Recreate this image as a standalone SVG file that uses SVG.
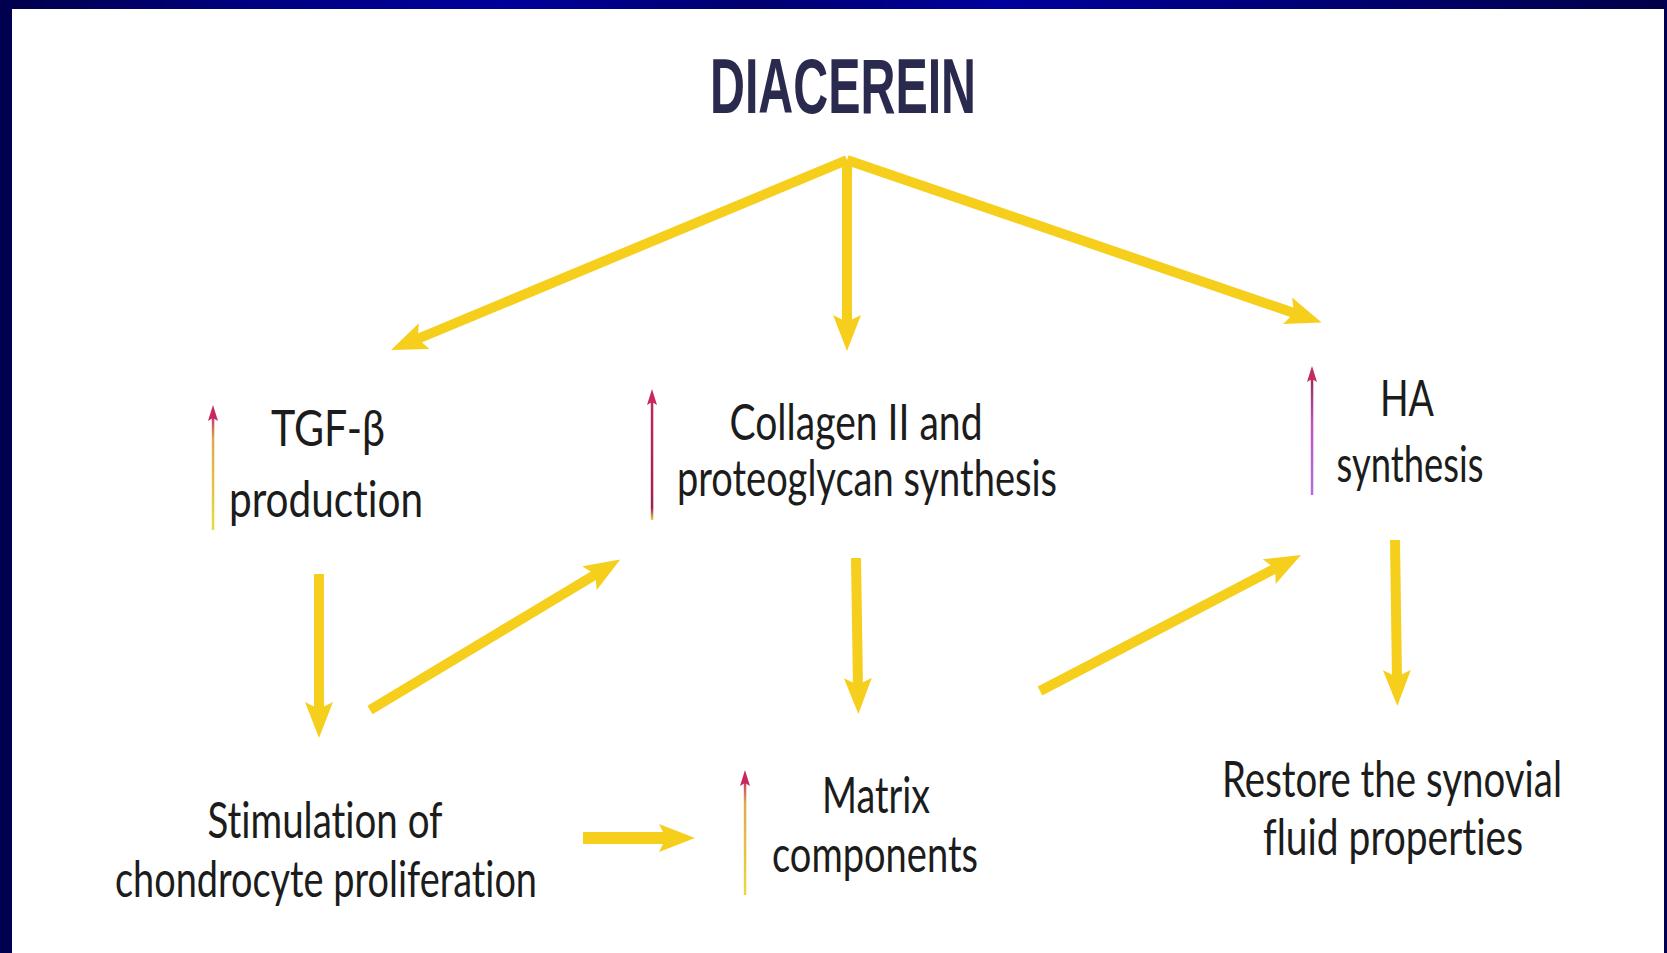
<svg xmlns="http://www.w3.org/2000/svg" width="1667" height="953" viewBox="0 0 1667 953">
<style>
.lbl{font-family:Lato,"Open Sans","DejaVu Sans",sans-serif;font-size:50px;fill:#1c1c1c;text-anchor:middle;font-variant-ligatures:none;font-feature-settings:"liga" 0}
.title{font-family:"Liberation Sans",Arial,sans-serif;font-weight:bold;font-size:78px;fill:#2a2a4e;text-anchor:middle}
.big{stroke:#f6cf1c;stroke-width:10;fill:none;stroke-linecap:butt}
.sh{fill:#c8285e}
</style>
<defs>
<linearGradient id="band" x1="0" y1="0" x2="1" y2="0">
<stop offset="0" stop-color="#00004a"/>
<stop offset="0.15" stop-color="#000080"/>
<stop offset="0.3" stop-color="#00009a"/>
<stop offset="0.45" stop-color="#000070"/>
<stop offset="0.6" stop-color="#00009c"/>
<stop offset="0.8" stop-color="#000072"/>
<stop offset="1" stop-color="#000048"/>
</linearGradient>
<linearGradient id="shaftY" x1="0" y1="0" x2="0" y2="1">
<stop offset="0" stop-color="#c2306a"/>
<stop offset="0.2" stop-color="#e0a850"/>
<stop offset="1" stop-color="#e6dc3c"/>
</linearGradient>
<linearGradient id="shaftM" x1="0" y1="0" x2="0" y2="1">
<stop offset="0" stop-color="#c02860"/>
<stop offset="0.9" stop-color="#a02050"/>
<stop offset="1" stop-color="#e8d040"/>
</linearGradient>
<linearGradient id="shaftP" x1="0" y1="0" x2="0" y2="1">
<stop offset="0" stop-color="#903050"/>
<stop offset="0.4" stop-color="#c050c0"/>
<stop offset="1" stop-color="#b070e0"/>
</linearGradient>
<marker id="head" markerUnits="userSpaceOnUse" markerWidth="36" markerHeight="28" viewBox="0 0 36 28" refX="10" refY="14" orient="auto">
<path d="M0,0 L36,14 L0,28 L7,14 z" fill="#f6cf1c"/>
</marker>
</defs>
<rect x="0" y="0" width="1667" height="953" fill="#ffffff"/>
<rect x="0" y="0" width="1667" height="9" fill="url(#band)"/>
<rect x="0" y="0" width="12" height="953" fill="#000050"/>
<rect x="1664" y="0" width="3" height="953" fill="#000050"/>

<g id="connectors">
<line class="big" x1="847" y1="160" x2="415" y2="340" marker-end="url(#head)"/>
<line class="big" x1="847" y1="160" x2="847" y2="325" marker-end="url(#head)"/>
<line class="big" x1="847" y1="160" x2="1297" y2="314" marker-end="url(#head)"/>
<line class="big" x1="319" y1="574" x2="319" y2="712" marker-end="url(#head)"/>
<line class="big" x1="370" y1="710" x2="598" y2="573" marker-end="url(#head)"/>
<line class="big" x1="856" y1="558" x2="858" y2="688" marker-end="url(#head)"/>
<line class="big" x1="1040" y1="691" x2="1278" y2="567" marker-end="url(#head)"/>
<line class="big" x1="1395" y1="540" x2="1397" y2="680" marker-end="url(#head)"/>
<line class="big" x1="583" y1="838" x2="669" y2="838" style="stroke-width:12" marker-end="url(#head)"/>
</g>

<g id="diacerein">
<text class="title" x="843" y="113" textLength="266" lengthAdjust="spacingAndGlyphs">DIACEREIN</text>
</g>

<g id="tgf">
<rect x="211.8" y="416" width="2.5" height="114" fill="url(#shaftY)"/>
<path class="sh" d="M213,405 L218,421 L213,418 L208,421 z"/>
<text class="lbl" x="328" y="446" textLength="114" lengthAdjust="spacingAndGlyphs">TGF-β</text>
<text class="lbl" x="326" y="517" textLength="194" lengthAdjust="spacingAndGlyphs">production</text>
</g>

<g id="collagen">
<rect x="650.8" y="399" width="2.5" height="121" fill="url(#shaftM)"/>
<path class="sh" d="M652,389 L657,405 L652,402 L647,405 z"/>
<text class="lbl" x="856" y="440" textLength="253" lengthAdjust="spacingAndGlyphs">Collagen II and</text>
<text class="lbl" x="867" y="496" textLength="380" lengthAdjust="spacingAndGlyphs">proteoglycan synthesis</text>
</g>

<g id="ha">
<rect x="1310.8" y="376" width="2.5" height="119" fill="url(#shaftP)"/>
<path class="sh" d="M1312,366 L1317,382 L1312,379 L1307,382 z"/>
<text class="lbl" x="1407" y="416" textLength="54" lengthAdjust="spacingAndGlyphs">HA</text>
<text class="lbl" x="1410" y="482" textLength="147" lengthAdjust="spacingAndGlyphs">synthesis</text>
</g>

<g id="stimulation">
<text class="lbl" x="325" y="838" textLength="235" lengthAdjust="spacingAndGlyphs">Stimulation of</text>
<text class="lbl" x="326" y="897" textLength="422" lengthAdjust="spacingAndGlyphs">chondrocyte proliferation</text>
</g>

<g id="matrix">
<rect x="743.8" y="780" width="2.5" height="115" fill="url(#shaftY)"/>
<path class="sh" d="M745,770 L750,786 L745,783 L740,786 z"/>
<text class="lbl" x="876" y="813" textLength="108" lengthAdjust="spacingAndGlyphs">Matrix</text>
<text class="lbl" x="875" y="872" textLength="206" lengthAdjust="spacingAndGlyphs">components</text>
</g>

<g id="restore">
<text class="lbl" x="1392" y="797" textLength="340" lengthAdjust="spacingAndGlyphs">Restore the synovial</text>
<text class="lbl" x="1393" y="855" textLength="260" lengthAdjust="spacingAndGlyphs">fluid properties</text>
</g>
</svg>
